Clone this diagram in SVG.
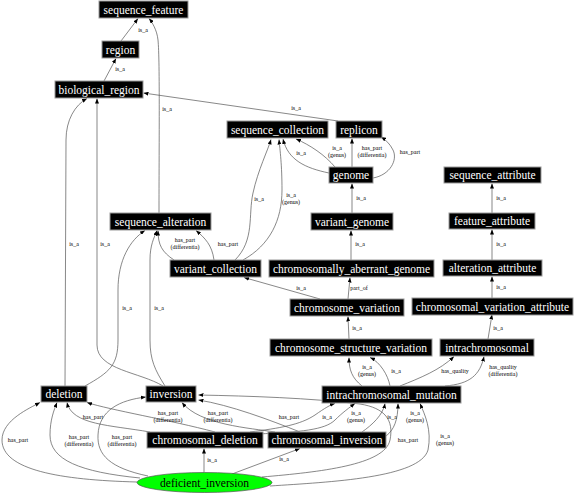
<svg xmlns="http://www.w3.org/2000/svg" width="576" height="493" viewBox="0 0 576 493">
<style>
.n rect{fill:#000;stroke:#999;stroke-width:1}
.n text{fill:#fff;font-family:"Liberation Serif",serif;font-size:11.5px;text-anchor:middle}
.e path{fill:none;stroke:#555;stroke-width:0.7;marker-end:url(#ah)}
.e text{fill:#000;font-family:"Liberation Serif",serif;font-size:6px;text-anchor:middle}
</style>
<defs>
<marker id="ah" markerWidth="5" markerHeight="4" refX="5" refY="2" orient="auto" markerUnits="userSpaceOnUse">
<path d="M0,0 L5,2 L0,4 z" fill="#000"/>
</marker>
</defs>
<rect width="576" height="493" fill="#fff"/>
<g id="edges" class="e">
<path d="M121,41 L138,18.5"/><text x="143" y="32">is_a</text>
<path d="M104,81 L116,58.5"/><text x="120" y="71">is_a</text>
<path d="M159,213 C159,150 160,60 158,40 C157,30 152,22 149,18.5"/><text x="167" y="111">is_a</text>
<path d="M338,121 L143.5,93"/><text x="296" y="110">is_a</text>
<path d="M329,173 C305,168 288,160 283,139"/><text x="301" y="155">is_a</text>
<path d="M335,167 C325,155 310,145 296,139"/><text x="337" y="150">is_a<tspan x="337" dy="7">(genus)</tspan></text>
<path d="M352,167 L352,138.5"/><text x="372" y="150">has_part<tspan x="372" dy="7">(differentia)</tspan></text>
<path d="M373,178 C390,175 398,160 393,150 C390,144 386,140 381,137"/><text x="410" y="154">has_part</text>
<path d="M352,213 L352,183.5"/><text x="361" y="200">is_a</text>
<path d="M351,260 L351,230.5"/><text x="360" y="246">is_a</text>
<path d="M348,299 L350,277.5"/><text x="359" y="290">part_of</text>
<path d="M320,299 L244,277.5"/><text x="301" y="290">is_a</text>
<path d="M349,339 L348,316.5"/><text x="357" y="330">is_a</text>
<path d="M362,386 C352,378 349,370 349,357.5"/><text x="367" y="369">is_a<tspan x="367" dy="7">(genus)</tspan></text>
<path d="M390,386 C388,375 380,362 370,357.5"/><text x="396" y="373">is_a</text>
<path d="M400,386 C420,378 440,370 454,356.5"/><text x="455" y="373">has_quality</text>
<path d="M445,386 C470,384 480,375 484,356.5"/><text x="503" y="369">has_quality<tspan x="503" dy="7">(differentia)</tspan></text>
<path d="M488,339 L492,314.5"/><text x="498" y="330">is_a</text>
<path d="M492,298 L492,276.5"/><text x="501" y="289">is_a</text>
<path d="M492,260 L492,229.5"/><text x="501" y="246">is_a</text>
<path d="M492,213 L492,183.5"/><text x="501" y="200">is_a</text>
<path d="M235,260 C255,240 248,215 253,193 C258,170 268,150 271,139.5"/><text x="259" y="201">is_a</text>
<path d="M243,260 C270,245 282,220 282,190 C282,165 280,150 279,139.5"/><text x="291" y="197">is_a<tspan x="291" dy="7">(genus)</tspan></text>
<path d="M174,260 C162,252 158,245 158,230.5"/><text x="185" y="242">has_part<tspan x="185" dy="7">(differentia)</tspan></text>
<path d="M214,260 C212,245 205,238 196,230.5"/><text x="228" y="246">has_part</text>
<path d="M65,386 L66,140 C66,120 75,105 87,98.5"/><text x="74" y="246">is_a</text>
<path d="M163,386 C140,372 97,370 97,345 L97,98.5"/><text x="105" y="246">is_a</text>
<path d="M85,386 C110,372 118,365 118,340 L118,290 C118,260 130,240 145,230.5"/><text x="127" y="310">is_a</text>
<path d="M165,386 C155,370 150,360 150,340 L150,260 C150,245 154,238 157,230.5"/><text x="159" y="310">is_a</text>
<path d="M150,432 C110,425 72,425 67,402.5"/><text x="93" y="419">has_part</text>
<path d="M215,432 C170,420 110,410 87,402.5"/><text x="168" y="415">has_part<tspan x="168" dy="7">(differentia)</tspan></text>
<path d="M275,432 C250,428 200,425 182,402.5"/><text x="218" y="415">has_part<tspan x="218" dy="7">(differentia)</tspan></text>
<path d="M300,432 C270,420 230,405 198.5,400"/><text x="289" y="419">has_part</text>
<path d="M262,477 C320,472 385,465 390,440 C394,420 385,408 360,404 C310,398 250,396 198.5,395"/><text x="408" y="442">has_part</text>
<path d="M137,482 C60,480 2,470 2,440 C2,420 30,408 40,402.5"/><text x="18" y="442">has_part</text>
<path d="M140,478 C80,472 50,460 50,435 C50,420 54,410 57,402.5"/><text x="79" y="439">has_part<tspan x="79" dy="7">(differentia)</tspan></text>
<path d="M148,476 C110,468 97,455 98,435 C99,410 120,400 146,397"/><text x="122" y="439">has_part<tspan x="122" dy="7">(differentia)</tspan></text>
<path d="M204,472.5 L204,448.5"/><text x="212" y="462">is_a</text>
<path d="M232,474 L300,448.5"/><text x="284" y="461">is_a</text>
<path d="M270,486 C330,482 420,478 428,450 C432,430 425,415 420,403.5"/><text x="445" y="438">is_a<tspan x="445" dy="7">(genus)</tspan></text>
<path d="M250,432 C280,428 300,425 315,415 C325,408 330,405 335,403.5"/><text x="327" y="419">is_a</text>
<path d="M258,434 C300,432 325,430 335,420 C342,413 350,407 355,403.5"/><text x="356" y="415">is_a<tspan x="356" dy="7">(genus)</tspan></text>
<path d="M362,432 C372,425 383,415 385,403.5"/><text x="392" y="419">is_a</text>
<path d="M386,436 C394,430 398,420 398,403.5"/><text x="415" y="415">is_a<tspan x="415" dy="7">(genus)</tspan></text>
</g>
<g id="sequence_feature" class="n"><rect x="99" y="1" width="89" height="17"/><text x="143.5" y="13.5">sequence_feature</text></g>
<g id="region" class="n"><rect x="102" y="41" width="37" height="17"/><text x="120.5" y="53.5">region</text></g>
<g id="biological_region" class="n"><rect x="55" y="81" width="88" height="17"/><text x="99" y="93.5">biological_region</text></g>
<g id="sequence_collection" class="n"><rect x="227" y="121" width="101" height="17"/><text x="277.5" y="133.5">sequence_collection</text></g>
<g id="replicon" class="n"><rect x="336" y="121" width="46" height="17"/><text x="359" y="133.5">replicon</text></g>
<g id="genome" class="n"><rect x="329" y="167" width="44" height="16"/><text x="351" y="179">genome</text></g>
<g id="variant_genome" class="n"><rect x="311" y="213" width="82" height="17"/><text x="352" y="225.5">variant_genome</text></g>
<g id="sequence_attribute" class="n"><rect x="444" y="167" width="97" height="16"/><text x="492.5" y="179">sequence_attribute</text></g>
<g id="feature_attribute" class="n"><rect x="449" y="213" width="86" height="16"/><text x="492" y="225">feature_attribute</text></g>
<g id="alteration_attribute" class="n"><rect x="443" y="260" width="99" height="16"/><text x="492.5" y="272">alteration_attribute</text></g>
<g id="chromosomal_variation_attribute" class="n"><rect x="412" y="298" width="161" height="17"/><text x="492.5" y="310.5">chromosomal_variation_attribute</text></g>
<g id="intrachromosomal" class="n"><rect x="440" y="339" width="94" height="17"/><text x="487" y="351.5">intrachromosomal</text></g>
<g id="sequence_alteration" class="n"><rect x="110" y="213" width="101" height="17"/><text x="160.5" y="225.5">sequence_alteration</text></g>
<g id="variant_collection" class="n"><rect x="170" y="260" width="91" height="17"/><text x="215.5" y="272.5">variant_collection</text></g>
<g id="chromosomally_aberrant_genome" class="n"><rect x="269" y="260" width="165" height="17"/><text x="351.5" y="272.5">chromosomally_aberrant_genome</text></g>
<g id="chromosome_variation" class="n"><rect x="290" y="299" width="114" height="17"/><text x="347" y="311.5">chromosome_variation</text></g>
<g id="chromosome_structure_variation" class="n"><rect x="270" y="339" width="162" height="17"/><text x="351" y="351.5">chromosome_structure_variation</text></g>
<g id="intrachromosomal_mutation" class="n"><rect x="322" y="386" width="139" height="17"/><text x="391.5" y="398.5">intrachromosomal_mutation</text></g>
<g id="deletion" class="n"><rect x="41" y="386" width="46" height="16"/><text x="64" y="398">deletion</text></g>
<g id="inversion" class="n"><rect x="146" y="386" width="50" height="16"/><text x="171" y="398">inversion</text></g>
<g id="chromosomal_deletion" class="n"><rect x="147" y="432" width="116" height="16"/><text x="205" y="444">chromosomal_deletion</text></g>
<g id="chromosomal_inversion" class="n"><rect x="268" y="432" width="118" height="16"/><text x="327" y="444">chromosomal_inversion</text></g>
<g id="deficient_inversion"><ellipse cx="204.5" cy="482.5" rx="67.5" ry="10" fill="#00ff00" stroke="#555" stroke-width="0.7"/><text x="204.5" y="486.5" fill="#000" font-family="Liberation Serif, serif" font-size="11.5" text-anchor="middle">deficient_inversion</text></g>
</svg>
